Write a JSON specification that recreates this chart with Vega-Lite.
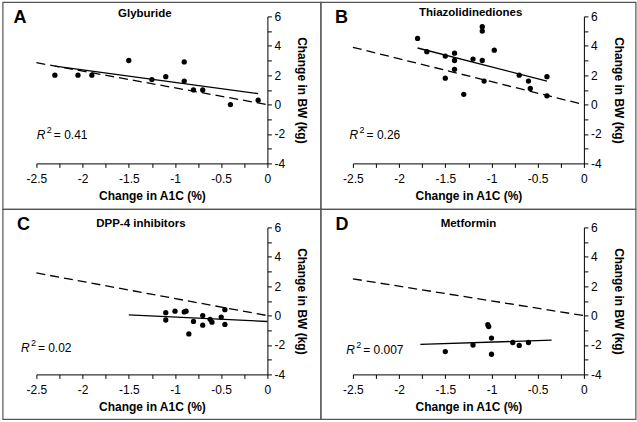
{
  "$schema": "https://vega.github.io/schema/vega-lite/v6.json",
  "padding": 1.4,
  "bounds": "flush",
  "columns": 2,
  "spacing": {"row": 64, "column": 85.5},
  "datasets": {
    "points": [
      {"panel": "A", "a1c": -2.3, "bw": 2.0},
      {"panel": "A", "a1c": -2.05, "bw": 2.0},
      {"panel": "A", "a1c": -1.9, "bw": 2.0},
      {"panel": "A", "a1c": -1.5, "bw": 3.0},
      {"panel": "A", "a1c": -1.25, "bw": 1.7},
      {"panel": "A", "a1c": -1.1, "bw": 1.9},
      {"panel": "A", "a1c": -0.9, "bw": 2.9},
      {"panel": "A", "a1c": -0.9, "bw": 1.6},
      {"panel": "A", "a1c": -0.8, "bw": 1.0},
      {"panel": "A", "a1c": -0.7, "bw": 1.0},
      {"panel": "A", "a1c": -0.4, "bw": 0.0},
      {"panel": "A", "a1c": -0.1, "bw": 0.3},
      {"panel": "B", "a1c": -1.8, "bw": 4.5},
      {"panel": "B", "a1c": -1.7, "bw": 3.6},
      {"panel": "B", "a1c": -1.5, "bw": 3.3},
      {"panel": "B", "a1c": -1.4, "bw": 3.5},
      {"panel": "B", "a1c": -1.4, "bw": 3.0},
      {"panel": "B", "a1c": -1.4, "bw": 2.4},
      {"panel": "B", "a1c": -1.5, "bw": 1.8},
      {"panel": "B", "a1c": -1.3, "bw": 0.7},
      {"panel": "B", "a1c": -1.2, "bw": 3.1},
      {"panel": "B", "a1c": -1.1, "bw": 5.3},
      {"panel": "B", "a1c": -1.1, "bw": 5.0},
      {"panel": "B", "a1c": -1.1, "bw": 3.0},
      {"panel": "B", "a1c": -1.08, "bw": 1.6},
      {"panel": "B", "a1c": -0.97, "bw": 3.7},
      {"panel": "B", "a1c": -0.7, "bw": 2.0},
      {"panel": "B", "a1c": -0.6, "bw": 1.6},
      {"panel": "B", "a1c": -0.58, "bw": 1.1},
      {"panel": "B", "a1c": -0.4, "bw": 1.9},
      {"panel": "B", "a1c": -0.4, "bw": 0.6},
      {"panel": "C", "a1c": -1.1, "bw": 0.2},
      {"panel": "C", "a1c": -1.1, "bw": -0.3},
      {"panel": "C", "a1c": -1.0, "bw": 0.3},
      {"panel": "C", "a1c": -0.9, "bw": 0.25},
      {"panel": "C", "a1c": -0.88, "bw": 0.3},
      {"panel": "C", "a1c": -0.8, "bw": -0.4},
      {"panel": "C", "a1c": -0.85, "bw": -1.25},
      {"panel": "C", "a1c": -0.7, "bw": 0.0},
      {"panel": "C", "a1c": -0.7, "bw": -0.65},
      {"panel": "C", "a1c": -0.62, "bw": -0.25},
      {"panel": "C", "a1c": -0.6, "bw": -0.45},
      {"panel": "C", "a1c": -0.5, "bw": -0.1},
      {"panel": "C", "a1c": -0.46, "bw": 0.4},
      {"panel": "C", "a1c": -0.46, "bw": -0.6},
      {"panel": "D", "a1c": -1.5, "bw": -2.45},
      {"panel": "D", "a1c": -1.2, "bw": -2.0},
      {"panel": "D", "a1c": -1.04, "bw": -0.62},
      {"panel": "D", "a1c": -1.03, "bw": -0.75},
      {"panel": "D", "a1c": -1.0, "bw": -1.53},
      {"panel": "D", "a1c": -1.0, "bw": -2.63},
      {"panel": "D", "a1c": -0.77, "bw": -1.83},
      {"panel": "D", "a1c": -0.7, "bw": -2.03},
      {"panel": "D", "a1c": -0.6, "bw": -1.83}
    ],
    "lines": [
      {"panel": "A", "kind": "fit", "a1c": -2.3, "bw": 2.62},
      {"panel": "A", "kind": "fit", "a1c": -0.1, "bw": 0.75},
      {"panel": "A", "kind": "ref", "a1c": -2.5, "bw": 2.85},
      {"panel": "A", "kind": "ref", "a1c": 0, "bw": 0},
      {"panel": "B", "kind": "fit", "a1c": -1.8, "bw": 3.85},
      {"panel": "B", "kind": "fit", "a1c": -0.4, "bw": 1.6},
      {"panel": "B", "kind": "ref", "a1c": -2.5, "bw": 3.9},
      {"panel": "B", "kind": "ref", "a1c": 0, "bw": 0},
      {"panel": "C", "kind": "fit", "a1c": -1.5, "bw": 0.05},
      {"panel": "C", "kind": "fit", "a1c": 0, "bw": -0.4},
      {"panel": "C", "kind": "ref", "a1c": -2.5, "bw": 2.9},
      {"panel": "C", "kind": "ref", "a1c": 0, "bw": 0},
      {"panel": "D", "kind": "fit", "a1c": -1.77, "bw": -1.96},
      {"panel": "D", "kind": "fit", "a1c": -0.35, "bw": -1.67},
      {"panel": "D", "kind": "ref", "a1c": -2.5, "bw": 2.5},
      {"panel": "D", "kind": "ref", "a1c": 0, "bw": 0}
    ]
  },
  "concat": [
    {
      "width": 231, "height": 147,
      "layer": [
        {"data": {"values": [{}]}, "mark": {"type": "rect", "fill": "transparent", "stroke": "#555", "strokeWidth": 1.2},
         "encoding": {
           "x": {"datum": -2.8626, "scale": {"domain": [-2.5, 0], "nice": false, "zero": false}, "axis": {"title": "Change in A1C (%)", "values": [-2.5, -2.25, -2, -1.75, -1.5, -1.25, -1, -0.75, -0.5, -0.25, 0], "labelExpr": "abs(datum.value * 2 - round(datum.value * 2)) < 0.001 ? '' + datum.value : ''", "labelOverlap": false}},
           "x2": {"datum": 0.579},
           "y": {"datum": 6.9524, "scale": {"domain": [-4, 6], "nice": false, "zero": false}, "axis": {"title": "Change in BW (kg)", "orient": "right", "values": [-4, -3, -2, -1, 0, 1, 2, 3, 4, 5, 6], "labelExpr": "datum.value % 2 === 0 ? '' + datum.value : ''", "labelOverlap": false}},
           "y2": {"datum": -7.1293}}},
        {"data": {"name": "lines"}, "transform": [{"filter": "datum.panel === 'A' && datum.kind === 'ref'"}],
         "mark": {"type": "line", "color": "black", "strokeWidth": 1.3, "strokeDash": [9, 5]},
         "encoding": {
           "x": {"field": "a1c", "type": "quantitative", "axis": {"title": "Change in A1C (%)", "values": [-2.5, -2.25, -2, -1.75, -1.5, -1.25, -1, -0.75, -0.5, -0.25, 0], "labelExpr": "abs(datum.value * 2 - round(datum.value * 2)) < 0.001 ? '' + datum.value : ''", "labelOverlap": false}},
           "y": {"field": "bw", "type": "quantitative", "axis": {"title": "Change in BW (kg)", "orient": "right", "values": [-4, -3, -2, -1, 0, 1, 2, 3, 4, 5, 6], "labelExpr": "datum.value % 2 === 0 ? '' + datum.value : ''", "labelOverlap": false}}}},
        {"data": {"name": "lines"}, "transform": [{"filter": "datum.panel === 'A' && datum.kind === 'fit'"}],
         "mark": {"type": "line", "color": "black", "strokeWidth": 1.3},
         "encoding": {
           "x": {"field": "a1c", "type": "quantitative", "axis": {"title": "Change in A1C (%)", "values": [-2.5, -2.25, -2, -1.75, -1.5, -1.25, -1, -0.75, -0.5, -0.25, 0], "labelExpr": "abs(datum.value * 2 - round(datum.value * 2)) < 0.001 ? '' + datum.value : ''", "labelOverlap": false}},
           "y": {"field": "bw", "type": "quantitative", "axis": {"title": "Change in BW (kg)", "orient": "right", "values": [-4, -3, -2, -1, 0, 1, 2, 3, 4, 5, 6], "labelExpr": "datum.value % 2 === 0 ? '' + datum.value : ''", "labelOverlap": false}}}},
        {"data": {"name": "points"}, "transform": [{"filter": "datum.panel === 'A'"}],
         "mark": {"type": "circle", "color": "black", "size": 28, "opacity": 1},
         "encoding": {
           "x": {"field": "a1c", "type": "quantitative", "axis": {"title": "Change in A1C (%)", "values": [-2.5, -2.25, -2, -1.75, -1.5, -1.25, -1, -0.75, -0.5, -0.25, 0], "labelExpr": "abs(datum.value * 2 - round(datum.value * 2)) < 0.001 ? '' + datum.value : ''", "labelOverlap": false}},
           "y": {"field": "bw", "type": "quantitative", "axis": {"title": "Change in BW (kg)", "orient": "right", "values": [-4, -3, -2, -1, 0, 1, 2, 3, 4, 5, 6], "labelExpr": "datum.value % 2 === 0 ? '' + datum.value : ''", "labelOverlap": false}}}},
        {"data": {"values": [{}]}, "mark": {"type": "text", "text": "A", "fontSize": 18, "fontWeight": "bold", "align": "left", "baseline": "middle", "color": "black"},
         "encoding": {
           "x": {"datum": -2.747, "axis": {"title": "Change in A1C (%)", "values": [-2.5, -2.25, -2, -1.75, -1.5, -1.25, -1, -0.75, -0.5, -0.25, 0], "labelExpr": "abs(datum.value * 2 - round(datum.value * 2)) < 0.001 ? '' + datum.value : ''", "labelOverlap": false}},
           "y": {"datum": 5.9, "axis": {"title": "Change in BW (kg)", "orient": "right", "values": [-4, -3, -2, -1, 0, 1, 2, 3, 4, 5, 6], "labelExpr": "datum.value % 2 === 0 ? '' + datum.value : ''", "labelOverlap": false}}}},
        {"data": {"values": [{}]}, "mark": {"type": "text", "text": "Glyburide", "fontSize": 11.5, "fontWeight": "bold", "align": "center", "baseline": "middle", "color": "black"},
         "encoding": {
           "x": {"datum": -1.326, "axis": {"title": "Change in A1C (%)", "values": [-2.5, -2.25, -2, -1.75, -1.5, -1.25, -1, -0.75, -0.5, -0.25, 0], "labelExpr": "abs(datum.value * 2 - round(datum.value * 2)) < 0.001 ? '' + datum.value : ''", "labelOverlap": false}},
           "y": {"datum": 6.136, "axis": {"title": "Change in BW (kg)", "orient": "right", "values": [-4, -3, -2, -1, 0, 1, 2, 3, 4, 5, 6], "labelExpr": "datum.value % 2 === 0 ? '' + datum.value : ''", "labelOverlap": false}}}},
        {"data": {"values": [{}]}, "mark": {"type": "text", "text": "R", "fontSize": 12, "fontStyle": "italic", "align": "left", "baseline": "middle", "color": "black"},
         "encoding": {
           "x": {"datum": -2.495, "axis": {"title": "Change in A1C (%)", "values": [-2.5, -2.25, -2, -1.75, -1.5, -1.25, -1, -0.75, -0.5, -0.25, 0], "labelExpr": "abs(datum.value * 2 - round(datum.value * 2)) < 0.001 ? '' + datum.value : ''", "labelOverlap": false}},
           "y": {"datum": -2.1, "axis": {"title": "Change in BW (kg)", "orient": "right", "values": [-4, -3, -2, -1, 0, 1, 2, 3, 4, 5, 6], "labelExpr": "datum.value % 2 === 0 ? '' + datum.value : ''", "labelOverlap": false}}}},
        {"data": {"values": [{}]}, "mark": {"type": "text", "text": "2", "fontSize": 9, "align": "left", "baseline": "middle", "dx": 10, "dy": -5, "color": "black"},
         "encoding": {
           "x": {"datum": -2.495, "axis": {"title": "Change in A1C (%)", "values": [-2.5, -2.25, -2, -1.75, -1.5, -1.25, -1, -0.75, -0.5, -0.25, 0], "labelExpr": "abs(datum.value * 2 - round(datum.value * 2)) < 0.001 ? '' + datum.value : ''", "labelOverlap": false}},
           "y": {"datum": -2.1, "axis": {"title": "Change in BW (kg)", "orient": "right", "values": [-4, -3, -2, -1, 0, 1, 2, 3, 4, 5, 6], "labelExpr": "datum.value % 2 === 0 ? '' + datum.value : ''", "labelOverlap": false}}}},
        {"data": {"values": [{}]}, "mark": {"type": "text", "text": "= 0.41", "fontSize": 12, "align": "left", "baseline": "middle", "dx": 17, "color": "black"},
         "encoding": {
           "x": {"datum": -2.495, "axis": {"title": "Change in A1C (%)", "values": [-2.5, -2.25, -2, -1.75, -1.5, -1.25, -1, -0.75, -0.5, -0.25, 0], "labelExpr": "abs(datum.value * 2 - round(datum.value * 2)) < 0.001 ? '' + datum.value : ''", "labelOverlap": false}},
           "y": {"datum": -2.1, "axis": {"title": "Change in BW (kg)", "orient": "right", "values": [-4, -3, -2, -1, 0, 1, 2, 3, 4, 5, 6], "labelExpr": "datum.value % 2 === 0 ? '' + datum.value : ''", "labelOverlap": false}}}}
      ]
    },
    {
      "width": 231, "height": 147,
      "layer": [
        {"data": {"values": [{}]}, "mark": {"type": "rect", "fill": "transparent", "stroke": "#555", "strokeWidth": 1.2},
         "encoding": {
           "x": {"datum": -2.8463, "scale": {"domain": [-2.5, 0], "nice": false, "zero": false}, "axis": {"title": "Change in A1C (%)", "values": [-2.5, -2.25, -2, -1.75, -1.5, -1.25, -1, -0.75, -0.5, -0.25, 0], "labelExpr": "abs(datum.value * 2 - round(datum.value * 2)) < 0.001 ? '' + datum.value : ''", "labelOverlap": false}},
           "x2": {"datum": 0.5628},
           "y": {"datum": 6.9524, "scale": {"domain": [-4, 6], "nice": false, "zero": false}, "axis": {"title": "Change in BW (kg)", "orient": "right", "values": [-4, -3, -2, -1, 0, 1, 2, 3, 4, 5, 6], "labelExpr": "datum.value % 2 === 0 ? '' + datum.value : ''", "labelOverlap": false}},
           "y2": {"datum": -7.1293}}},
        {"data": {"name": "lines"}, "transform": [{"filter": "datum.panel === 'B' && datum.kind === 'ref'"}],
         "mark": {"type": "line", "color": "black", "strokeWidth": 1.3, "strokeDash": [9, 5]},
         "encoding": {
           "x": {"field": "a1c", "type": "quantitative", "axis": {"title": "Change in A1C (%)", "values": [-2.5, -2.25, -2, -1.75, -1.5, -1.25, -1, -0.75, -0.5, -0.25, 0], "labelExpr": "abs(datum.value * 2 - round(datum.value * 2)) < 0.001 ? '' + datum.value : ''", "labelOverlap": false}},
           "y": {"field": "bw", "type": "quantitative", "axis": {"title": "Change in BW (kg)", "orient": "right", "values": [-4, -3, -2, -1, 0, 1, 2, 3, 4, 5, 6], "labelExpr": "datum.value % 2 === 0 ? '' + datum.value : ''", "labelOverlap": false}}}},
        {"data": {"name": "lines"}, "transform": [{"filter": "datum.panel === 'B' && datum.kind === 'fit'"}],
         "mark": {"type": "line", "color": "black", "strokeWidth": 1.3},
         "encoding": {
           "x": {"field": "a1c", "type": "quantitative", "axis": {"title": "Change in A1C (%)", "values": [-2.5, -2.25, -2, -1.75, -1.5, -1.25, -1, -0.75, -0.5, -0.25, 0], "labelExpr": "abs(datum.value * 2 - round(datum.value * 2)) < 0.001 ? '' + datum.value : ''", "labelOverlap": false}},
           "y": {"field": "bw", "type": "quantitative", "axis": {"title": "Change in BW (kg)", "orient": "right", "values": [-4, -3, -2, -1, 0, 1, 2, 3, 4, 5, 6], "labelExpr": "datum.value % 2 === 0 ? '' + datum.value : ''", "labelOverlap": false}}}},
        {"data": {"name": "points"}, "transform": [{"filter": "datum.panel === 'B'"}],
         "mark": {"type": "circle", "color": "black", "size": 28, "opacity": 1},
         "encoding": {
           "x": {"field": "a1c", "type": "quantitative", "axis": {"title": "Change in A1C (%)", "values": [-2.5, -2.25, -2, -1.75, -1.5, -1.25, -1, -0.75, -0.5, -0.25, 0], "labelExpr": "abs(datum.value * 2 - round(datum.value * 2)) < 0.001 ? '' + datum.value : ''", "labelOverlap": false}},
           "y": {"field": "bw", "type": "quantitative", "axis": {"title": "Change in BW (kg)", "orient": "right", "values": [-4, -3, -2, -1, 0, 1, 2, 3, 4, 5, 6], "labelExpr": "datum.value % 2 === 0 ? '' + datum.value : ''", "labelOverlap": false}}}},
        {"data": {"values": [{}]}, "mark": {"type": "text", "text": "B", "fontSize": 18, "fontWeight": "bold", "align": "left", "baseline": "middle", "color": "black"},
         "encoding": {
           "x": {"datum": -2.695, "axis": {"title": "Change in A1C (%)", "values": [-2.5, -2.25, -2, -1.75, -1.5, -1.25, -1, -0.75, -0.5, -0.25, 0], "labelExpr": "abs(datum.value * 2 - round(datum.value * 2)) < 0.001 ? '' + datum.value : ''", "labelOverlap": false}},
           "y": {"datum": 5.91, "axis": {"title": "Change in BW (kg)", "orient": "right", "values": [-4, -3, -2, -1, 0, 1, 2, 3, 4, 5, 6], "labelExpr": "datum.value % 2 === 0 ? '' + datum.value : ''", "labelOverlap": false}}}},
        {"data": {"values": [{}]}, "mark": {"type": "text", "text": "Thiazolidinediones", "fontSize": 11.5, "fontWeight": "bold", "align": "center", "baseline": "middle", "color": "black"},
         "encoding": {
           "x": {"datum": -1.226, "axis": {"title": "Change in A1C (%)", "values": [-2.5, -2.25, -2, -1.75, -1.5, -1.25, -1, -0.75, -0.5, -0.25, 0], "labelExpr": "abs(datum.value * 2 - round(datum.value * 2)) < 0.001 ? '' + datum.value : ''", "labelOverlap": false}},
           "y": {"datum": 6.224, "axis": {"title": "Change in BW (kg)", "orient": "right", "values": [-4, -3, -2, -1, 0, 1, 2, 3, 4, 5, 6], "labelExpr": "datum.value % 2 === 0 ? '' + datum.value : ''", "labelOverlap": false}}}},
        {"data": {"values": [{}]}, "mark": {"type": "text", "text": "R", "fontSize": 12, "fontStyle": "italic", "align": "left", "baseline": "middle", "color": "black"},
         "encoding": {
           "x": {"datum": -2.536, "axis": {"title": "Change in A1C (%)", "values": [-2.5, -2.25, -2, -1.75, -1.5, -1.25, -1, -0.75, -0.5, -0.25, 0], "labelExpr": "abs(datum.value * 2 - round(datum.value * 2)) < 0.001 ? '' + datum.value : ''", "labelOverlap": false}},
           "y": {"datum": -2.1, "axis": {"title": "Change in BW (kg)", "orient": "right", "values": [-4, -3, -2, -1, 0, 1, 2, 3, 4, 5, 6], "labelExpr": "datum.value % 2 === 0 ? '' + datum.value : ''", "labelOverlap": false}}}},
        {"data": {"values": [{}]}, "mark": {"type": "text", "text": "2", "fontSize": 9, "align": "left", "baseline": "middle", "dx": 10, "dy": -5, "color": "black"},
         "encoding": {
           "x": {"datum": -2.536, "axis": {"title": "Change in A1C (%)", "values": [-2.5, -2.25, -2, -1.75, -1.5, -1.25, -1, -0.75, -0.5, -0.25, 0], "labelExpr": "abs(datum.value * 2 - round(datum.value * 2)) < 0.001 ? '' + datum.value : ''", "labelOverlap": false}},
           "y": {"datum": -2.1, "axis": {"title": "Change in BW (kg)", "orient": "right", "values": [-4, -3, -2, -1, 0, 1, 2, 3, 4, 5, 6], "labelExpr": "datum.value % 2 === 0 ? '' + datum.value : ''", "labelOverlap": false}}}},
        {"data": {"values": [{}]}, "mark": {"type": "text", "text": "= 0.26", "fontSize": 12, "align": "left", "baseline": "middle", "dx": 17, "color": "black"},
         "encoding": {
           "x": {"datum": -2.536, "axis": {"title": "Change in A1C (%)", "values": [-2.5, -2.25, -2, -1.75, -1.5, -1.25, -1, -0.75, -0.5, -0.25, 0], "labelExpr": "abs(datum.value * 2 - round(datum.value * 2)) < 0.001 ? '' + datum.value : ''", "labelOverlap": false}},
           "y": {"datum": -2.1, "axis": {"title": "Change in BW (kg)", "orient": "right", "values": [-4, -3, -2, -1, 0, 1, 2, 3, 4, 5, 6], "labelExpr": "datum.value % 2 === 0 ? '' + datum.value : ''", "labelOverlap": false}}}}
      ]
    },
    {
      "width": 231, "height": 147,
      "layer": [
        {"data": {"values": [{}]}, "mark": {"type": "rect", "fill": "transparent", "stroke": "#555", "strokeWidth": 1.2},
         "encoding": {
           "x": {"datum": -2.8626, "scale": {"domain": [-2.5, 0], "nice": false, "zero": false}, "axis": {"title": "Change in A1C (%)", "values": [-2.5, -2.25, -2, -1.75, -1.5, -1.25, -1, -0.75, -0.5, -0.25, 0], "labelExpr": "abs(datum.value * 2 - round(datum.value * 2)) < 0.001 ? '' + datum.value : ''", "labelOverlap": false}},
           "x2": {"datum": 0.579},
           "y": {"datum": 7.2245, "scale": {"domain": [-4, 6], "nice": false, "zero": false}, "axis": {"title": "Change in BW (kg)", "orient": "right", "values": [-4, -3, -2, -1, 0, 1, 2, 3, 4, 5, 6], "labelExpr": "datum.value % 2 === 0 ? '' + datum.value : ''", "labelOverlap": false}},
           "y2": {"datum": -7.0612}}},
        {"data": {"name": "lines"}, "transform": [{"filter": "datum.panel === 'C' && datum.kind === 'ref'"}],
         "mark": {"type": "line", "color": "black", "strokeWidth": 1.3, "strokeDash": [9, 5]},
         "encoding": {
           "x": {"field": "a1c", "type": "quantitative", "axis": {"title": "Change in A1C (%)", "values": [-2.5, -2.25, -2, -1.75, -1.5, -1.25, -1, -0.75, -0.5, -0.25, 0], "labelExpr": "abs(datum.value * 2 - round(datum.value * 2)) < 0.001 ? '' + datum.value : ''", "labelOverlap": false}},
           "y": {"field": "bw", "type": "quantitative", "axis": {"title": "Change in BW (kg)", "orient": "right", "values": [-4, -3, -2, -1, 0, 1, 2, 3, 4, 5, 6], "labelExpr": "datum.value % 2 === 0 ? '' + datum.value : ''", "labelOverlap": false}}}},
        {"data": {"name": "lines"}, "transform": [{"filter": "datum.panel === 'C' && datum.kind === 'fit'"}],
         "mark": {"type": "line", "color": "black", "strokeWidth": 1.3},
         "encoding": {
           "x": {"field": "a1c", "type": "quantitative", "axis": {"title": "Change in A1C (%)", "values": [-2.5, -2.25, -2, -1.75, -1.5, -1.25, -1, -0.75, -0.5, -0.25, 0], "labelExpr": "abs(datum.value * 2 - round(datum.value * 2)) < 0.001 ? '' + datum.value : ''", "labelOverlap": false}},
           "y": {"field": "bw", "type": "quantitative", "axis": {"title": "Change in BW (kg)", "orient": "right", "values": [-4, -3, -2, -1, 0, 1, 2, 3, 4, 5, 6], "labelExpr": "datum.value % 2 === 0 ? '' + datum.value : ''", "labelOverlap": false}}}},
        {"data": {"name": "points"}, "transform": [{"filter": "datum.panel === 'C'"}],
         "mark": {"type": "circle", "color": "black", "size": 28, "opacity": 1},
         "encoding": {
           "x": {"field": "a1c", "type": "quantitative", "axis": {"title": "Change in A1C (%)", "values": [-2.5, -2.25, -2, -1.75, -1.5, -1.25, -1, -0.75, -0.5, -0.25, 0], "labelExpr": "abs(datum.value * 2 - round(datum.value * 2)) < 0.001 ? '' + datum.value : ''", "labelOverlap": false}},
           "y": {"field": "bw", "type": "quantitative", "axis": {"title": "Change in BW (kg)", "orient": "right", "values": [-4, -3, -2, -1, 0, 1, 2, 3, 4, 5, 6], "labelExpr": "datum.value % 2 === 0 ? '' + datum.value : ''", "labelOverlap": false}}}},
        {"data": {"values": [{}]}, "mark": {"type": "text", "text": "C", "fontSize": 18, "fontWeight": "bold", "align": "left", "baseline": "middle", "color": "black"},
         "encoding": {
           "x": {"datum": -2.711, "axis": {"title": "Change in A1C (%)", "values": [-2.5, -2.25, -2, -1.75, -1.5, -1.25, -1, -0.75, -0.5, -0.25, 0], "labelExpr": "abs(datum.value * 2 - round(datum.value * 2)) < 0.001 ? '' + datum.value : ''", "labelOverlap": false}},
           "y": {"datum": 6.136, "axis": {"title": "Change in BW (kg)", "orient": "right", "values": [-4, -3, -2, -1, 0, 1, 2, 3, 4, 5, 6], "labelExpr": "datum.value % 2 === 0 ? '' + datum.value : ''", "labelOverlap": false}}}},
        {"data": {"values": [{}]}, "mark": {"type": "text", "text": "DPP-4 inhibitors", "fontSize": 11.5, "fontWeight": "bold", "align": "center", "baseline": "middle", "color": "black"},
         "encoding": {
           "x": {"datum": -1.369, "axis": {"title": "Change in A1C (%)", "values": [-2.5, -2.25, -2, -1.75, -1.5, -1.25, -1, -0.75, -0.5, -0.25, 0], "labelExpr": "abs(datum.value * 2 - round(datum.value * 2)) < 0.001 ? '' + datum.value : ''", "labelOverlap": false}},
           "y": {"datum": 6.204, "axis": {"title": "Change in BW (kg)", "orient": "right", "values": [-4, -3, -2, -1, 0, 1, 2, 3, 4, 5, 6], "labelExpr": "datum.value % 2 === 0 ? '' + datum.value : ''", "labelOverlap": false}}}},
        {"data": {"values": [{}]}, "mark": {"type": "text", "text": "R", "fontSize": 12, "fontStyle": "italic", "align": "left", "baseline": "middle", "color": "black"},
         "encoding": {
           "x": {"datum": -2.668, "axis": {"title": "Change in A1C (%)", "values": [-2.5, -2.25, -2, -1.75, -1.5, -1.25, -1, -0.75, -0.5, -0.25, 0], "labelExpr": "abs(datum.value * 2 - round(datum.value * 2)) < 0.001 ? '' + datum.value : ''", "labelOverlap": false}},
           "y": {"datum": -2.18, "axis": {"title": "Change in BW (kg)", "orient": "right", "values": [-4, -3, -2, -1, 0, 1, 2, 3, 4, 5, 6], "labelExpr": "datum.value % 2 === 0 ? '' + datum.value : ''", "labelOverlap": false}}}},
        {"data": {"values": [{}]}, "mark": {"type": "text", "text": "2", "fontSize": 9, "align": "left", "baseline": "middle", "dx": 10, "dy": -5, "color": "black"},
         "encoding": {
           "x": {"datum": -2.668, "axis": {"title": "Change in A1C (%)", "values": [-2.5, -2.25, -2, -1.75, -1.5, -1.25, -1, -0.75, -0.5, -0.25, 0], "labelExpr": "abs(datum.value * 2 - round(datum.value * 2)) < 0.001 ? '' + datum.value : ''", "labelOverlap": false}},
           "y": {"datum": -2.18, "axis": {"title": "Change in BW (kg)", "orient": "right", "values": [-4, -3, -2, -1, 0, 1, 2, 3, 4, 5, 6], "labelExpr": "datum.value % 2 === 0 ? '' + datum.value : ''", "labelOverlap": false}}}},
        {"data": {"values": [{}]}, "mark": {"type": "text", "text": "= 0.02", "fontSize": 12, "align": "left", "baseline": "middle", "dx": 17, "color": "black"},
         "encoding": {
           "x": {"datum": -2.668, "axis": {"title": "Change in A1C (%)", "values": [-2.5, -2.25, -2, -1.75, -1.5, -1.25, -1, -0.75, -0.5, -0.25, 0], "labelExpr": "abs(datum.value * 2 - round(datum.value * 2)) < 0.001 ? '' + datum.value : ''", "labelOverlap": false}},
           "y": {"datum": -2.18, "axis": {"title": "Change in BW (kg)", "orient": "right", "values": [-4, -3, -2, -1, 0, 1, 2, 3, 4, 5, 6], "labelExpr": "datum.value % 2 === 0 ? '' + datum.value : ''", "labelOverlap": false}}}}
      ]
    },
    {
      "width": 231, "height": 147,
      "layer": [
        {"data": {"values": [{}]}, "mark": {"type": "rect", "fill": "transparent", "stroke": "#555", "strokeWidth": 1.2},
         "encoding": {
           "x": {"datum": -2.8463, "scale": {"domain": [-2.5, 0], "nice": false, "zero": false}, "axis": {"title": "Change in A1C (%)", "values": [-2.5, -2.25, -2, -1.75, -1.5, -1.25, -1, -0.75, -0.5, -0.25, 0], "labelExpr": "abs(datum.value * 2 - round(datum.value * 2)) < 0.001 ? '' + datum.value : ''", "labelOverlap": false}},
           "x2": {"datum": 0.5628},
           "y": {"datum": 7.2245, "scale": {"domain": [-4, 6], "nice": false, "zero": false}, "axis": {"title": "Change in BW (kg)", "orient": "right", "values": [-4, -3, -2, -1, 0, 1, 2, 3, 4, 5, 6], "labelExpr": "datum.value % 2 === 0 ? '' + datum.value : ''", "labelOverlap": false}},
           "y2": {"datum": -7.0612}}},
        {"data": {"name": "lines"}, "transform": [{"filter": "datum.panel === 'D' && datum.kind === 'ref'"}],
         "mark": {"type": "line", "color": "black", "strokeWidth": 1.3, "strokeDash": [9, 5]},
         "encoding": {
           "x": {"field": "a1c", "type": "quantitative", "axis": {"title": "Change in A1C (%)", "values": [-2.5, -2.25, -2, -1.75, -1.5, -1.25, -1, -0.75, -0.5, -0.25, 0], "labelExpr": "abs(datum.value * 2 - round(datum.value * 2)) < 0.001 ? '' + datum.value : ''", "labelOverlap": false}},
           "y": {"field": "bw", "type": "quantitative", "axis": {"title": "Change in BW (kg)", "orient": "right", "values": [-4, -3, -2, -1, 0, 1, 2, 3, 4, 5, 6], "labelExpr": "datum.value % 2 === 0 ? '' + datum.value : ''", "labelOverlap": false}}}},
        {"data": {"name": "lines"}, "transform": [{"filter": "datum.panel === 'D' && datum.kind === 'fit'"}],
         "mark": {"type": "line", "color": "black", "strokeWidth": 1.3},
         "encoding": {
           "x": {"field": "a1c", "type": "quantitative", "axis": {"title": "Change in A1C (%)", "values": [-2.5, -2.25, -2, -1.75, -1.5, -1.25, -1, -0.75, -0.5, -0.25, 0], "labelExpr": "abs(datum.value * 2 - round(datum.value * 2)) < 0.001 ? '' + datum.value : ''", "labelOverlap": false}},
           "y": {"field": "bw", "type": "quantitative", "axis": {"title": "Change in BW (kg)", "orient": "right", "values": [-4, -3, -2, -1, 0, 1, 2, 3, 4, 5, 6], "labelExpr": "datum.value % 2 === 0 ? '' + datum.value : ''", "labelOverlap": false}}}},
        {"data": {"name": "points"}, "transform": [{"filter": "datum.panel === 'D'"}],
         "mark": {"type": "circle", "color": "black", "size": 28, "opacity": 1},
         "encoding": {
           "x": {"field": "a1c", "type": "quantitative", "axis": {"title": "Change in A1C (%)", "values": [-2.5, -2.25, -2, -1.75, -1.5, -1.25, -1, -0.75, -0.5, -0.25, 0], "labelExpr": "abs(datum.value * 2 - round(datum.value * 2)) < 0.001 ? '' + datum.value : ''", "labelOverlap": false}},
           "y": {"field": "bw", "type": "quantitative", "axis": {"title": "Change in BW (kg)", "orient": "right", "values": [-4, -3, -2, -1, 0, 1, 2, 3, 4, 5, 6], "labelExpr": "datum.value % 2 === 0 ? '' + datum.value : ''", "labelOverlap": false}}}},
        {"data": {"values": [{}]}, "mark": {"type": "text", "text": "D", "fontSize": 18, "fontWeight": "bold", "align": "left", "baseline": "middle", "color": "black"},
         "encoding": {
           "x": {"datum": -2.687, "axis": {"title": "Change in A1C (%)", "values": [-2.5, -2.25, -2, -1.75, -1.5, -1.25, -1, -0.75, -0.5, -0.25, 0], "labelExpr": "abs(datum.value * 2 - round(datum.value * 2)) < 0.001 ? '' + datum.value : ''", "labelOverlap": false}},
           "y": {"datum": 6.136, "axis": {"title": "Change in BW (kg)", "orient": "right", "values": [-4, -3, -2, -1, 0, 1, 2, 3, 4, 5, 6], "labelExpr": "datum.value % 2 === 0 ? '' + datum.value : ''", "labelOverlap": false}}}},
        {"data": {"values": [{}]}, "mark": {"type": "text", "text": "Metformin", "fontSize": 11.5, "fontWeight": "bold", "align": "center", "baseline": "middle", "color": "black"},
         "encoding": {
           "x": {"datum": -1.25, "axis": {"title": "Change in A1C (%)", "values": [-2.5, -2.25, -2, -1.75, -1.5, -1.25, -1, -0.75, -0.5, -0.25, 0], "labelExpr": "abs(datum.value * 2 - round(datum.value * 2)) < 0.001 ? '' + datum.value : ''", "labelOverlap": false}},
           "y": {"datum": 6.25, "axis": {"title": "Change in BW (kg)", "orient": "right", "values": [-4, -3, -2, -1, 0, 1, 2, 3, 4, 5, 6], "labelExpr": "datum.value % 2 === 0 ? '' + datum.value : ''", "labelOverlap": false}}}},
        {"data": {"values": [{}]}, "mark": {"type": "text", "text": "R", "fontSize": 12, "fontStyle": "italic", "align": "left", "baseline": "middle", "color": "black"},
         "encoding": {
           "x": {"datum": -2.573, "axis": {"title": "Change in A1C (%)", "values": [-2.5, -2.25, -2, -1.75, -1.5, -1.25, -1, -0.75, -0.5, -0.25, 0], "labelExpr": "abs(datum.value * 2 - round(datum.value * 2)) < 0.001 ? '' + datum.value : ''", "labelOverlap": false}},
           "y": {"datum": -2.32, "axis": {"title": "Change in BW (kg)", "orient": "right", "values": [-4, -3, -2, -1, 0, 1, 2, 3, 4, 5, 6], "labelExpr": "datum.value % 2 === 0 ? '' + datum.value : ''", "labelOverlap": false}}}},
        {"data": {"values": [{}]}, "mark": {"type": "text", "text": "2", "fontSize": 9, "align": "left", "baseline": "middle", "dx": 10, "dy": -5, "color": "black"},
         "encoding": {
           "x": {"datum": -2.573, "axis": {"title": "Change in A1C (%)", "values": [-2.5, -2.25, -2, -1.75, -1.5, -1.25, -1, -0.75, -0.5, -0.25, 0], "labelExpr": "abs(datum.value * 2 - round(datum.value * 2)) < 0.001 ? '' + datum.value : ''", "labelOverlap": false}},
           "y": {"datum": -2.32, "axis": {"title": "Change in BW (kg)", "orient": "right", "values": [-4, -3, -2, -1, 0, 1, 2, 3, 4, 5, 6], "labelExpr": "datum.value % 2 === 0 ? '' + datum.value : ''", "labelOverlap": false}}}},
        {"data": {"values": [{}]}, "mark": {"type": "text", "text": "= 0.007", "fontSize": 12, "align": "left", "baseline": "middle", "dx": 17, "color": "black"},
         "encoding": {
           "x": {"datum": -2.573, "axis": {"title": "Change in A1C (%)", "values": [-2.5, -2.25, -2, -1.75, -1.5, -1.25, -1, -0.75, -0.5, -0.25, 0], "labelExpr": "abs(datum.value * 2 - round(datum.value * 2)) < 0.001 ? '' + datum.value : ''", "labelOverlap": false}},
           "y": {"datum": -2.32, "axis": {"title": "Change in BW (kg)", "orient": "right", "values": [-4, -3, -2, -1, 0, 1, 2, 3, 4, 5, 6], "labelExpr": "datum.value % 2 === 0 ? '' + datum.value : ''", "labelOverlap": false}}}}
      ]
    }
  ],
  "config": {
    "font": "Liberation Sans",
    "view": {"stroke": null},
    "text": {"font": "Liberation Sans"},
    "axis": {
      "grid": false,
      "domainColor": "black",
      "domainWidth": 1,
      "tickColor": "black",
      "tickWidth": 1,
      "tickSize": 4,
      "labelColor": "black",
      "labelFont": "Liberation Sans",
      "labelFontSize": 12,
      "labelFlush": false,
      "labelOverlap": false,
      "titleColor": "black",
      "titleFont": "Liberation Sans",
      "titleFontSize": 12,
      "titleFontWeight": "bold"
    },
    "axisX": {"labelPadding": 6, "titlePadding": 6},
    "axisY": {"labelPadding": 2.5, "titlePadding": 10}
  }
}
